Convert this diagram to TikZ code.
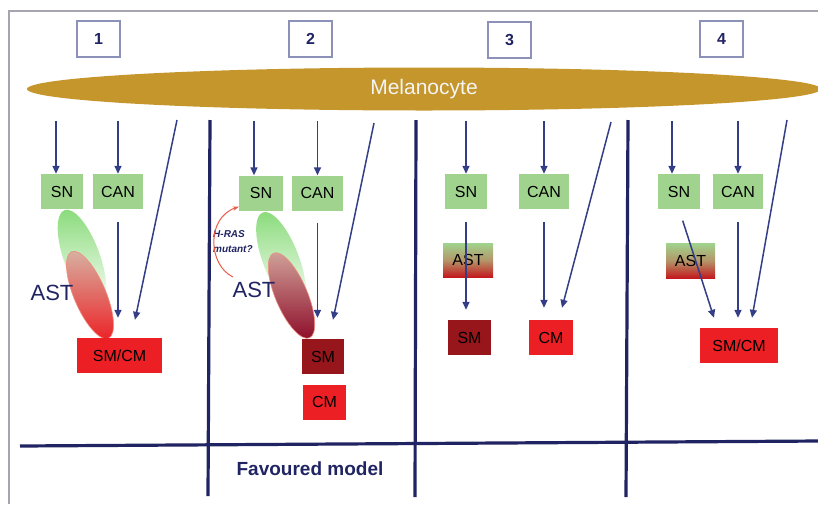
\documentclass[tikz,border=0pt]{standalone}
\usepackage{fontspec}
\setmainfont{Liberation Sans}
\usetikzlibrary{shapes.geometric, arrows.meta}

\definecolor{melgold}{RGB}{196,150,44}
\definecolor{boxgreen}{RGB}{160,212,142}
\definecolor{smred}{RGB}{150,22,28}
\definecolor{cmred}{RGB}{236,32,36}
\definecolor{arrowblue}{RGB}{52,62,135}
\definecolor{navy}{RGB}{32,36,98}
\definecolor{framegray}{RGB}{165,165,175}
\definecolor{numedge}{RGB}{140,145,185}
\definecolor{rasred}{RGB}{232,92,70}

\tikzset{
    arr/.style={draw=arrowblue, line width=1.5pt, -{Triangle[length=8pt, width=7pt]}},
    cbox/.style={minimum height=35pt, inner sep=0pt, font=\fontsize{16}{18}\selectfont},
    gbox/.style={cbox, fill=boxgreen},
    rbox/.style={cbox, fill=cmred},
    dbox/.style={cbox, fill=smred},
    astbox/.style={cbox, top color=boxgreen, bottom color={rgb,255:red,195;green,25;blue,30}, middle color={rgb,255:red,180;green,150;blue,105}},
    numbox/.style={draw=numedge, line width=1.4pt, fill=white, minimum width=43pt, minimum height=36pt, inner sep=0pt, text=navy, font=\bfseries\fontsize{16}{18}\selectfont},
    divider/.style={draw=navy, line width=3.2pt}
}

\begin{document}
\begin{tikzpicture}[x=1pt, y=-1pt]
    \useasboundingbox (0,0) rectangle (818,504);

    % Frame and grid
    \draw[framegray, line width=2.4pt] (9,504) -- (9,11) -- (820,11);
    \draw[divider] (20,446) -- (820,441);
    \draw[divider] (210,120) -- (208,496);
    \draw[divider] (416,120) -- (415,497);
    \draw[divider] (628,120) -- (626,497);

    % Header
    \node[numbox] (num1) at (98.5,39) {1};
    \node[numbox] (num2) at (310.5,39) {2};
    \node[numbox] (num3) at (509.5,40) {3};
    \node[numbox] (num4) at (721.5,39) {4};
    \node[ellipse, fill=melgold, minimum width=794pt, minimum height=43pt, inner sep=0pt,
        text=white!92!gray, font=\fontsize{21}{24}\selectfont] (mel) at (424,89) {Melanocyte};
    \coordinate (top) at (0,121);

    % Model 1
    \shade[top color=boxgreen!85!green, bottom color=white, rotate around={20:(82,258)}]
        (82,258) ellipse [x radius=18pt, y radius=51pt];
    \shade[top color={rgb,255:red,215;green,180;blue,165}, bottom color=cmred, draw=rasred!70, line width=0.6pt,
        rotate around={23:(90,295)}] (90,295) ellipse [x radius=16pt, y radius=47pt];
    \node[gbox, minimum width=42pt] (sn1) at (62,191.5) {SN};
    \node[gbox, minimum width=50pt] (can1) at (118,191.5) {CAN};
    \node[rbox, minimum width=85pt] (smcm1) at (119.5,355.5) {SM/CM};
    \node[text=navy, font=\fontsize{22}{24}\selectfont] (ast1) at (52,293) {AST};
    \coordinate (d1) at (177,120);
    \draw[arr] ([xshift=-6pt]sn1.north |- top) -- ([xshift=-6pt]sn1.north);
    \draw[arr] (can1.north |- top) -- (can1.north);
    \draw[arr] (d1) -- ([xshift=15.5pt, yshift=18pt]smcm1.north);
    \draw[arr, shorten <=13pt, shorten >=20pt] (can1.south) -- (can1.south |- smcm1.north);

    % Model 2
    \shade[top color=boxgreen!85!green, bottom color=white, rotate around={21:(281,260)}]
        (281,260) ellipse [x radius=18pt, y radius=51pt];
    \shade[top color={rgb,255:red,210;green,165;blue,155}, bottom color={rgb,255:red,140;green,10;blue,40},
        draw=rasred!70, line width=0.6pt, rotate around={23:(291.5,295.5)}]
        (291.5,295.5) ellipse [x radius=16pt, y radius=46pt];
    \node[gbox, minimum width=44pt] (sn2) at (261,193) {SN};
    \node[gbox, minimum width=51pt] (can2) at (317.5,193) {CAN};
    \node[dbox, minimum width=42pt] (sm2) at (323,356.5) {SM};
    \node[rbox, minimum width=43pt] (cm2) at (324.5,402) {CM};
    \node[text=navy, font=\fontsize{22}{24}\selectfont] (ast2) at (254,290) {AST};
    \node[text=navy, font=\bfseries\itshape\fontsize{10}{15}\selectfont, align=left, inner sep=0pt,
        anchor=west] (hras) at (213,242) {H-RAS\\mutant?};
    \coordinate (d2) at (374,123);
    \coordinate (hr) at (233,277);
    \draw[rasred, line width=1pt, -{Stealth[length=6pt]}] (hr) .. controls (208,265) and (206,218) .. ([yshift=4pt]sn2.south west);
    \draw[arr] ([xshift=-7pt]sn2.north |- top) -- ([xshift=-7pt]sn2.north);
    \draw[arr] (can2.north |- top) -- (can2.north);
    \draw[arr] (d2) -- ([xshift=10pt, yshift=19pt]sm2.north);
    \draw[arr, shorten <=12pt, shorten >=21pt] (can2.south) -- (can2.south |- sm2.north);

    % Model 3
    \node[gbox, minimum width=42pt] (sn3) at (466,191.5) {SN};
    \node[gbox, minimum width=50pt] (can3) at (544,191.5) {CAN};
    \node[astbox, minimum width=50pt, minimum height=34pt] (ast3) at (468,260) {AST};
    \node[dbox, minimum width=43pt] (sm3) at (469.5,337.5) {SM};
    \node[rbox, minimum width=44pt] (cm3) at (551,337.5) {CM};
    \coordinate (d3) at (611,122);
    \draw[arr] (sn3.north |- top) -- (sn3.north);
    \draw[arr] (can3.north |- top) -- (can3.north);
    \draw[arr] (d3) -- ([xshift=11pt, yshift=12pt]cm3.north);
    \draw[arr, shorten <=13pt, shorten >=12pt] (can3.south) -- (can3.south |- cm3.north);
    \draw[arr, shorten <=13pt, shorten >=10pt] (sn3.south) -- (sn3.south |- sm3.north);

    % Model 4
    \node[gbox, minimum width=42pt] (sn4) at (679,191.5) {SN};
    \node[gbox, minimum width=50pt] (can4) at (738,191.5) {CAN};
    \node[astbox, minimum width=49pt] (ast4) at (690.5,260.5) {AST};
    \node[rbox, minimum width=78pt] (smcm4) at (739,345.5) {SM/CM};
    \coordinate (d4) at (787,120);
    \draw[arr] ([xshift=-7pt]sn4.north |- top) -- ([xshift=-7pt]sn4.north);
    \draw[arr] (can4.north |- top) -- (can4.north);
    \draw[arr] (d4) -- ([xshift=13pt, yshift=10pt]smcm4.north);
    \draw[arr, shorten <=13pt, shorten >=10pt] (can4.south) -- (can4.south |- smcm4.north);
    \draw[arr, shorten <=12pt] (sn4.south) -- ([xshift=-25pt, yshift=10pt]smcm4.north);

    % Footer
    \node[text=navy, font=\bfseries\fontsize{19}{21}\selectfont] (fav) at (310,469) {Favoured model};
\end{tikzpicture}
\end{document}
